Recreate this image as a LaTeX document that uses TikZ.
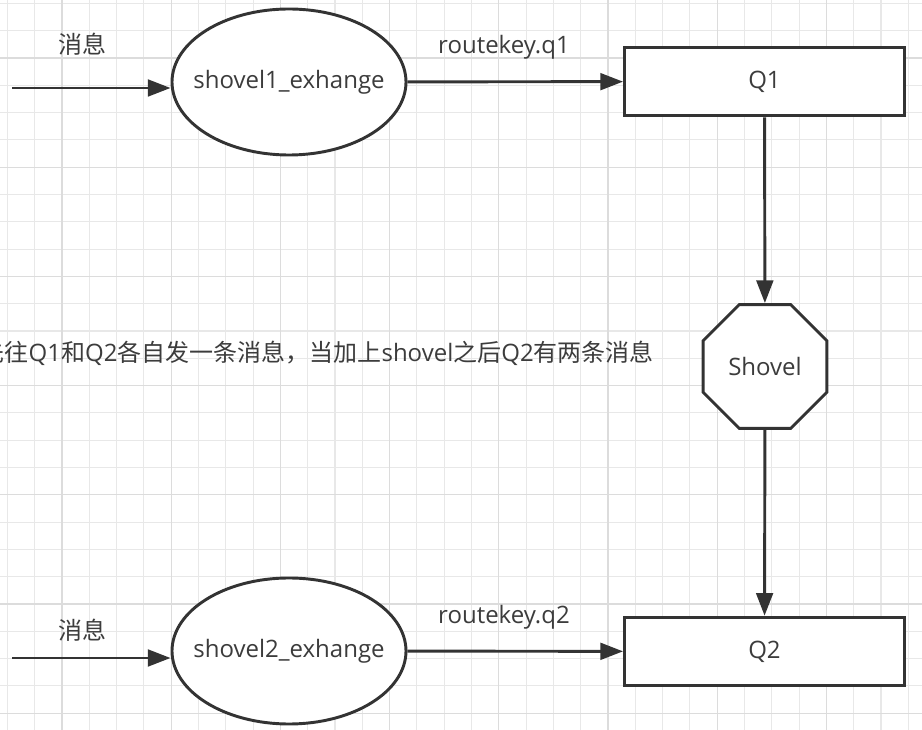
\documentclass[tikz,border=0pt]{standalone}
\usepackage{fontspec}
\setmainfont{Open Sans}
\newfontfamily\cjk{Noto Sans CJK SC}
\usepackage{xcolor}
\usetikzlibrary{shapes.geometric, arrows.meta, positioning}
\definecolor{SH_LINE}{HTML}{333333}
\definecolor{SH_TEXT}{HTML}{3C3C3C}
\definecolor{SH_GRID}{HTML}{E8E8E8}
\definecolor{SH_GRIDMAJ}{HTML}{DCDCDC}
\tikzset{
  exch/.style={
    ellipse, draw=SH_LINE, line width=2.2pt, fill=white,
    minimum width=175.5pt, minimum height=109.5pt,
    inner xsep=-30pt, inner ysep=0pt,
    text=SH_TEXT, font=\fontsize{18}{22}\selectfont},
  queue/.style={
    rectangle, draw=SH_LINE, line width=2.2pt, fill=white,
    minimum width=210pt, minimum height=51.5pt, inner sep=0pt,
    text=SH_TEXT, font=\fontsize{18}{22}\selectfont},
  octo/.style={
    regular polygon, regular polygon sides=8,
    draw=SH_LINE, line width=2.2pt, fill=white,
    minimum size=100.6pt, inner sep=0pt,
    text=SH_TEXT, font=\fontsize{18}{22}\selectfont},
  lbl/.style={inner sep=0pt, text=SH_TEXT, font=\fontsize{18}{22}\selectfont},
  arr/.style={-{Triangle[length=17pt,width=12.5pt]}, line width=2.2pt, color=SH_LINE},
  gridln/.style={draw=SH_GRID, line width=0.8pt},
  gridmaj/.style={draw=SH_GRIDMAJ, line width=1pt},
}

\begin{document}
\begin{tikzpicture}[x=0.75pt, y=-0.75pt]

  \useasboundingbox (0,0) rectangle (922,730);
  \fill[white] (0,0) rectangle (922,730);

  % background grid
  \foreach \k in {0,...,33}
    \draw[gridln] ({7.4+27.3*\k},0) -- ({7.4+27.3*\k},730);
  \foreach \k in {0,...,26}
    \draw[gridln] (0,{3.4+27.3*\k}) -- (922,{3.4+27.3*\k});
  \foreach \k in {0,...,8}
    \draw[gridmaj] ({62+109.2*\k},0) -- ({62+109.2*\k},730);
  \foreach \k in {0,...,6}
    \draw[gridmaj] (0,{58+109.2*\k}) -- (922,{58+109.2*\k});

  \node[exch] (ex1) at (289,82) {shovel1\_exhange};
  \node[queue] (q1) at (764.5,81.5) {Q1};
  \node[octo] (shv) at (765,366.5) {Shovel};
  \node[queue] (q2) at (764.5,651.5) {Q2};
  \node[exch] (ex2) at (289,651) {shovel2\_exhange};

  \coordinate (src1) at (12,88);
  \coordinate (src2) at (12,658);

  \node[lbl] (msg1) at (82,44) {\cjk 消息};
  \node[lbl] (msg2) at (82,630) {\cjk 消息};
  \node[lbl] (rk1) at (504,47) {routekey.q1};
  \node[lbl] (rk2) at (504,617) {routekey.q2};

  % note, cut off at the left edge
  \node[lbl, anchor=east] (note) at (654,353)
    {{\cjk 先往}Q1{\cjk 和}Q2{\cjk 各自发一条消息，当加上}shovel{\cjk 之后}Q2{\cjk 有两条消息}};

  \draw[arr] (src1) -- (src1 -| ex1.west);
  \draw[arr] (ex1)  -- (q1);
  \draw[arr] (q1)   -- (shv);
  \draw[arr] (shv)  -- (q2);
  \draw[arr] (src2) -- (src2 -| ex2.west);
  \draw[arr] (ex2)  -- (q2);

\end{tikzpicture}
\end{document}
